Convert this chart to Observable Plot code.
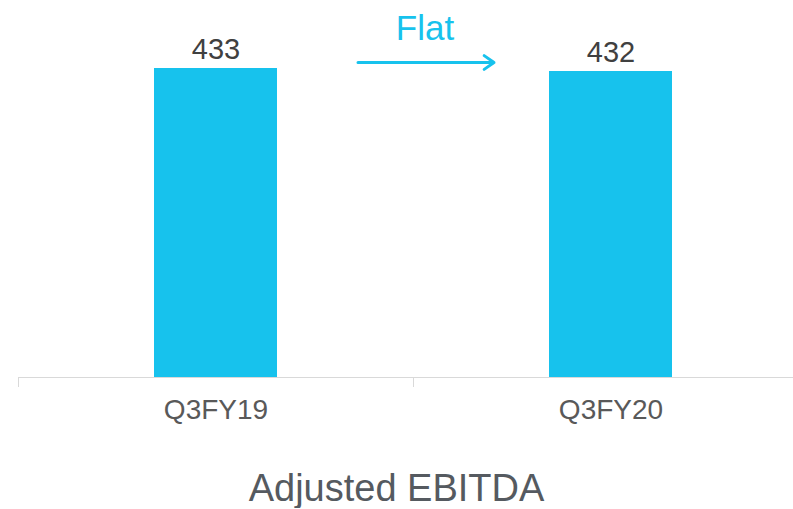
<!DOCTYPE html>
<html><head><meta charset="utf-8">
<script src="https://cdn.jsdelivr.net/npm/d3@7"></script>
<script src="https://cdn.jsdelivr.net/npm/@observablehq/plot@0.6"></script>
<style>
body{margin:0;background:#fff;overflow:hidden;font-family:"Liberation Sans",Arial,sans-serif}
#title{text-align:center;font-size:38px;line-height:40px;color:#555a60;margin-top:28px}
</style></head><body><div id="chart"></div><div id="title"></div>
<script>
const periods = ["Q3FY19", "Q3FY20"];
const ebitda = [433, 432];
const changeLabel = "Flat";
const chartTitle = "Adjusted EBITDA";

const data = periods.map((p, i) => ({period: p, value: ebitda[i]}));
const base = 330;
const cyan = "#17c2ed";
const step = 395;
const arrowLevel = d3.max(ebitda) + 2;
const note = [{from: periods[0], to: periods[1], level: arrowLevel, text: changeLabel}];

const plot = Plot.plot({
  width: 793, height: 440,
  marginLeft: 18, marginRight: 0, marginTop: 2, marginBottom: 63,
  style: {fontFamily: "Liberation Sans, Arial, sans-serif", background: "white", overflow: "visible"},
  x: {domain: periods, range: [18, 18 + 2 * step], padding: 0},
  y: {domain: [base, 455], axis: null},
  marks: [
    Plot.barY(data, {x: "period", y1: base, y2: "value", fill: cyan, insetLeft: 136, insetRight: 136}),
    Plot.ruleY([base], {stroke: "#d9d9d9", strokeWidth: 1}),
    Plot.axisX({tickSize: 10, dx: -step / 2, tickFormat: () => "", stroke: "#d9d9d9", label: null}),
    Plot.axisX({tickSize: 0, tickPadding: 22, fontSize: 28, fill: "#595959", label: null}),
    Plot.text(data, {x: "period", y: "value", text: d => String(d.value), lineAnchor: "bottom", dy: -10, fontSize: 29, fill: "#404040"}),
    Plot.arrow(note, {x1: "from", x2: "to", y1: "level", y2: "level", insetStart: 142, insetEnd: 117, stroke: cyan, strokeWidth: 3, headLength: 6, headAngle: 70}),
    Plot.text(note, {x: "from", y: "level", text: "text", dx: 209, dy: -23, lineAnchor: "bottom", fontSize: 35, fill: cyan})
  ]
});
document.getElementById("chart").appendChild(plot);
document.getElementById("title").textContent = chartTitle;
</script></body></html>
